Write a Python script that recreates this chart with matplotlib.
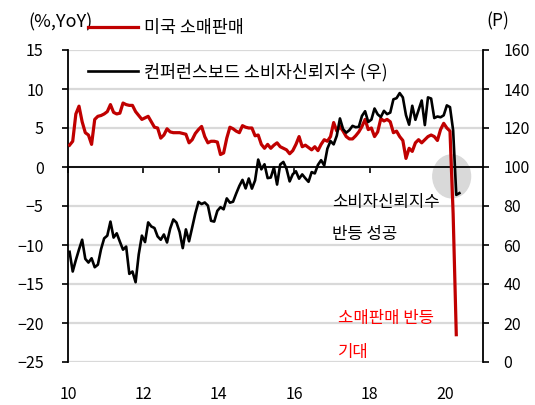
import matplotlib
matplotlib.use('Agg')
import matplotlib.pyplot as plt
from matplotlib.patches import Ellipse
from matplotlib.lines import Line2D
import numpy as np

plt.rcParams['font.family'] = ['Noto Sans CJK KR', 'DejaVu Sans']

# ---------------- data ----------------
start_year = 2010
# US retail sales, YoY %, monthly Jan 2010 - Apr 2020
retail = [2.8, 3.3, 6.8, 7.8, 5.8, 4.4, 4.1, 2.9, 6.1, 6.5, 6.6, 6.8,
          7.1, 8.0, 7.0, 6.8, 6.9, 8.2, 8.0, 7.9, 7.9, 7.1, 6.6, 6.1,
          6.3, 6.5, 5.8, 5.1, 5.0, 3.7, 4.1, 4.9, 4.5, 4.4, 4.4, 4.4,
          4.3, 4.2, 3.1, 3.5, 4.3, 4.8, 5.2, 3.9, 3.1, 3.3, 3.3, 3.2,
          1.6, 1.8, 3.7, 5.1, 4.9, 4.6, 4.4, 5.3, 5.1, 5.0, 5.0, 4.0,
          4.1, 2.9, 2.4, 2.9, 2.4, 2.8, 3.1, 2.6, 2.4, 2.2, 1.7, 2.1,
          2.9, 3.9, 2.6, 2.8, 2.5, 2.2, 2.6, 2.1, 2.9, 3.5, 3.3, 3.9,
          5.7, 4.6, 5.2, 4.6, 3.9, 3.6, 3.6, 4.0, 4.5, 5.2, 6.1, 4.8,
          5.0, 3.9, 4.5, 6.2, 5.9, 6.1, 5.8, 4.4, 4.6, 3.9, 3.4, 1.1,
          2.4, 2.0, 3.1, 3.5, 3.1, 3.5, 3.9, 4.1, 3.9, 3.4, 4.8, 5.6,
          5.0, 4.6, -6.0, -21.5]
# Conference Board consumer confidence index, monthly Jan 2010 - May 2020
cci = [56.5, 46.4, 52.3, 57.7, 62.7, 52.9, 51.0, 53.2, 48.6, 49.9, 57.8, 63.4,
       64.8, 72.0, 63.8, 66.0, 61.7, 57.6, 59.2, 45.2, 46.4, 40.9, 55.2, 64.8,
       61.5, 71.6, 69.5, 68.7, 64.4, 62.7, 65.4, 61.3, 68.4, 73.1, 71.5, 66.7,
       58.4, 68.0, 61.9, 69.0, 76.2, 82.1, 81.0, 81.8, 80.2, 72.4, 72.0, 77.5,
       79.4, 78.3, 83.9, 81.7, 82.2, 86.4, 90.3, 93.4, 89.0, 94.1, 88.9, 93.1,
       103.8, 98.8, 101.4, 94.3, 94.6, 99.8, 91.0, 101.3, 102.6, 99.1, 92.6, 96.3,
       97.8, 94.0, 96.2, 94.2, 92.4, 97.4, 96.7, 101.1, 103.5, 100.8, 109.4, 113.3,
       111.6, 116.1, 124.9, 119.4, 117.6, 118.9, 121.1, 120.4, 120.6, 126.2, 128.6, 123.1,
       124.3, 130.0, 127.0, 125.6, 128.8, 127.1, 127.9, 134.7, 135.3, 137.9, 135.7, 126.6,
       121.7, 131.4, 124.2, 129.2, 134.1, 121.5, 135.7, 135.1, 125.1, 125.9, 125.5, 126.5,
       131.6, 130.7, 118.8, 85.7, 86.6]

x_ticks = [2010, 2012, 2014, 2016, 2018, 2020]
x_labels = ['10', '12', '14', '16', '18', '20']
left_ticks = [-25, -20, -15, -10, -5, 0, 5, 10, 15]
right_ticks = [0, 20, 40, 60, 80, 100, 120, 140, 160]

label_retail = '미국 소매판매'
label_cci = '컨퍼런스보드 소비자신뢰지수 (우)'

x_retail = start_year + (np.arange(len(retail)) + 0.5) / 12
x_cci = start_year + (np.arange(len(cci)) + 0.5) / 12

RED = '#C00000'
GRID = '#D9D9D9'

W, H = 535, 405
fig = plt.figure(figsize=(W / 100, H / 100), dpi=100)
ax = fig.add_axes([68 / W, 1 - 362 / H, (483 - 68) / W, 312 / H])
ax2 = ax.twinx()

# primary axis
ax.set_xlim(2010, 2021)
ax.set_ylim(-25, 15)
ax.set_yticks(left_ticks)
ax.yaxis.grid(True, color=GRID, lw=1.6)
ax.set_axisbelow(True)
for s in ['top', 'right']:
    ax.spines[s].set_visible(False)
ax.spines['left'].set_color('black')
ax.spines['left'].set_linewidth(1.3)
ax.spines['bottom'].set_position(('data', 0))
ax.spines['bottom'].set_linewidth(1.3)
ax.set_xticks(x_ticks)
ax.tick_params(axis='x', direction='out', length=4.5, width=1.2, labelbottom=False)
ax.tick_params(axis='y', direction='out', length=4.5, width=1.2, pad=13, labelsize=11.5)

sec = ax.secondary_xaxis('bottom')
sec.set_xticks(x_ticks, x_labels)
sec.tick_params(length=0, pad=17, labelsize=11.5)
sec.spines['bottom'].set_visible(False)

ax.add_patch(Ellipse((2020.17, -1.2), 1.0, 5.5, color=GRID, zorder=1.5))
ax.plot(x_retail, retail, color=RED, lw=2.3, zorder=3, solid_joinstyle='round')

# secondary axis
ax2.set_ylim(0, 160)
ax2.set_yticks(right_ticks)
for s in ['top', 'left', 'bottom']:
    ax2.spines[s].set_visible(False)
ax2.spines['right'].set_linewidth(1.3)
ax2.tick_params(axis='y', direction='out', length=4.5, width=1.2, pad=10, labelsize=11.5)
ax2.plot(x_cci, cci, color='black', lw=1.9, zorder=3, solid_joinstyle='round')

# legends
h1 = Line2D([], [], color=RED, lw=2.3)
h2 = Line2D([], [], color='black', lw=1.9)
fig.legend([h1], [label_retail], loc='center left', bbox_to_anchor=(88 / W, 1 - 28 / H),
           frameon=False, borderpad=0, borderaxespad=0, handlelength=2.9,
           handletextpad=0.3, fontsize=12.5)
fig.legend([h2], [label_cci], loc='center left', bbox_to_anchor=(88 / W, 1 - 72 / H),
           frameon=False, borderpad=0, borderaxespad=0, handlelength=2.9,
           handletextpad=0.3, fontsize=12.5)

fig.text(93 / W, 1 - 22 / H, '(%,YoY)', ha='right', va='center', fontsize=13)
fig.text(498 / W, 1 - 21 / H, '(P)', ha='center', va='center', fontsize=12.5)

fig.text(332 / W, 1 - 202 / H, '소비자신뢰지수', ha='left', va='center', fontsize=12)
fig.text(332 / W, 1 - 235 / H, '반등 성공', ha='left', va='center', fontsize=12)
fig.text(338 / W, 1 - 319 / H, '소매판매 반등', ha='left', va='center', fontsize=12, color='#FF0000')
fig.text(338 / W, 1 - 353 / H, '기대', ha='left', va='center', fontsize=12, color='#FF0000')

fig.savefig('out.png', dpi=100)
